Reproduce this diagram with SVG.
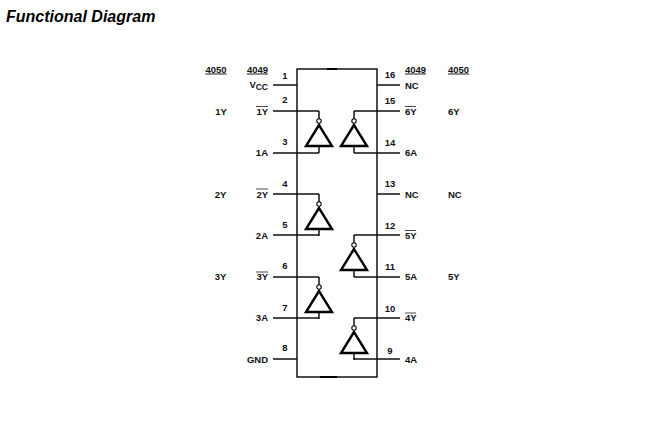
<svg xmlns="http://www.w3.org/2000/svg" width="671" height="429" viewBox="0 0 671 429">
<style>
text{font-family:"Liberation Sans",Arial,sans-serif;font-weight:bold;font-size:9.5px;fill:#111}
.t{font-size:16px;font-style:italic;fill:#000}
.e{text-anchor:end}
.m{text-anchor:middle}
.u{text-decoration:underline}
.l{fill:none;stroke:#000;stroke-width:1.4}
.p{fill:none;stroke:#111;stroke-width:1.4}
.g{fill:none;stroke:#000;stroke-width:2.4;stroke-linejoin:miter}
.b{fill:#fff;stroke:#000;stroke-width:1.1}
.o{fill:none;stroke:#333;stroke-width:.9}
</style>
<defs>
<g id="inv">
<path class="l" d="M0 0V8"/>
<path class="l" d="M0 35V42"/>
<path class="g" d="M0 14L-13 35H13Z"/>
<circle class="b" cx="0" cy="10" r="2.2"/>
</g>
</defs>
<text class="t" x="6" y="21.500">Functional Diagram</text>
<g id="package">
<rect class="l" x="297" y="69" width="80" height="308"/>
<path d="M327 69H337M320 377H337" fill="none" stroke="#000" stroke-width="2.200"/>
</g>
<g id="connectors">
<path class="p" d="M273 85H297M273 111H319M273 153H319M273 194H319M273 235H319M273 277H319M273 318H319M273 359H297"/>
<path class="p" d="M354 111H400M354 153H400M377 85H400M377 194H400M354 235H400M354 277H400M354 318H400M354 359H400"/>
</g>
<g id="gate-1"><use href="#inv" x="319" y="111"/></g>
<g id="gate-2"><use href="#inv" x="319" y="194"/></g>
<g id="gate-3"><use href="#inv" x="319" y="277"/></g>
<g id="gate-6"><use href="#inv" x="354" y="111"/></g>
<g id="gate-5"><use href="#inv" x="354" y="235"/></g>
<g id="gate-4"><use href="#inv" x="354" y="318"/></g>
<g id="header-left">
<text class="m u" x="216" y="72.500">4050</text>
<text class="m u" x="257.500" y="72.500">4049</text>
</g>
<g id="header-right">
<text class="m u" x="415.500" y="72.500">4049</text>
<text class="m u" x="458.500" y="72.500">4050</text>
</g>
<g id="pin-numbers">
<text class="m" x="285" y="78.500">1</text>
<text class="m" x="285" y="103">2</text>
<text class="m" x="285" y="145">3</text>
<text class="m" x="285" y="187">4</text>
<text class="m" x="285" y="228">5</text>
<text class="m" x="285" y="269">6</text>
<text class="m" x="285" y="311">7</text>
<text class="m" x="285" y="351">8</text>
<text class="m" x="390" y="78">16</text>
<text class="m" x="390" y="104">15</text>
<text class="m" x="390" y="146">14</text>
<text class="m" x="390" y="187">13</text>
<text class="m" x="390" y="229">12</text>
<text class="m" x="390" y="270">11</text>
<text class="m" x="390" y="312">10</text>
<text class="m" x="390" y="354">9</text>
</g>
<g id="labels-left">
<text class="e" x="268" y="88">V<tspan font-size="8.500" dy="2">CC</tspan></text>
<text class="e" x="268" y="115">1Y</text>
<text class="e" x="268" y="156">1A</text>
<text class="e" x="268" y="197.500">2Y</text>
<text class="e" x="268" y="239">2A</text>
<text class="e" x="268" y="280">3Y</text>
<text class="e" x="268" y="321">3A</text>
<text class="e" x="268" y="363">GND</text>
<text class="m" x="221" y="115">1Y</text>
<text class="m" x="220.500" y="197.500">2Y</text>
<text class="m" x="220.500" y="280">3Y</text>
<path class="o" d="M256 106.500H268M256 189H268M256 272H268"/>
</g>
<g id="labels-right">
<text x="405" y="88.500">NC</text>
<text x="405" y="115">6Y</text>
<text x="405" y="156">6A</text>
<text x="405" y="197.500">NC</text>
<text x="405" y="239">5Y</text>
<text x="405" y="280">5A</text>
<text x="405" y="321">4Y</text>
<text x="405" y="363">4A</text>
<text x="448" y="115">6Y</text>
<text x="448" y="197.500">NC</text>
<text x="448" y="280">5Y</text>
<path class="o" d="M405 106.500H416M405 230.500H416M405 313H416"/>
</g>
</svg>
